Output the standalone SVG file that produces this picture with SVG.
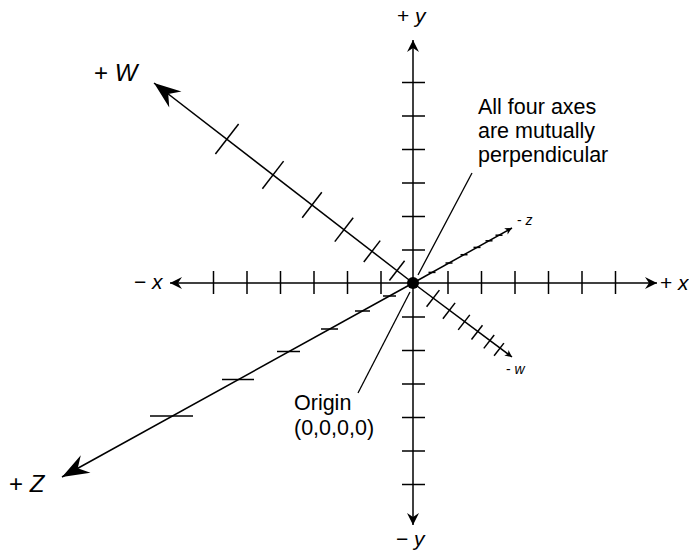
<svg xmlns="http://www.w3.org/2000/svg" width="689" height="550" viewBox="0 0 689 550">
<style>
.ax{stroke:#000;stroke-width:1.5;fill:none}
.tk{stroke:#000;stroke-width:1.5;fill:none}
.ld{stroke:#000;stroke-width:1.3;fill:none}
.t{font-family:"Liberation Sans",Arial,sans-serif;fill:#000}
.it{font-style:italic}
</style>
<defs>
<marker id="ahS" viewBox="-13 -7 14 14" markerWidth="14" markerHeight="14" refX="0" refY="0" orient="auto" markerUnits="userSpaceOnUse">
<path d="M0,0 L-12,-6 L-8,0 L-12,6 Z" fill="#000"/>
</marker>
<marker id="ahB" viewBox="-29 -12 30 24" markerWidth="30" markerHeight="24" refX="0" refY="0" orient="auto" markerUnits="userSpaceOnUse">
<path d="M0,0 L-27,-10 L-18,0 L-27,10 Z" fill="#000"/>
</marker>
<marker id="ahT" viewBox="-9 -5 10 10" markerWidth="10" markerHeight="10" refX="0" refY="0" orient="auto" markerUnits="userSpaceOnUse">
<path d="M0,0 L-7,-3.5 L-5,0 L-7,3.5 Z" fill="#000"/>
</marker>
</defs>
<rect width="689" height="550" fill="#fff"/>

<g id="connectors">
<g id="axis-x">
<line class="ax" x1="413" y1="283" x2="170" y2="283" marker-end="url(#ahS)"/>
<line class="ax" x1="413" y1="283" x2="657" y2="283" marker-end="url(#ahS)"/>
</g>
<g id="axis-y">
<line class="ax" x1="413" y1="283" x2="413" y2="40" marker-end="url(#ahS)"/>
<line class="ax" x1="413" y1="283" x2="413" y2="525" marker-end="url(#ahS)"/>
</g>
<g id="axis-w">
<line class="ax" x1="413" y1="283" x2="154" y2="83" marker-end="url(#ahB)"/>
<line class="ax" x1="413" y1="283" x2="512" y2="357" marker-end="url(#ahT)"/>
</g>
<g id="axis-z">
<line class="ax" x1="413" y1="283" x2="62" y2="477" marker-end="url(#ahB)"/>
<line class="ax" x1="413" y1="283" x2="512" y2="228" marker-end="url(#ahT)"/>
</g>
<g id="leaders">
<line class="ld" x1="472" y1="173" x2="418" y2="275"/>
<line class="ld" x1="358" y1="393" x2="410" y2="292"/>
</g>
</g>

<g id="ticks">
<g id="ticks-x">
<line class="tk" x1="213.5" y1="271" x2="213.5" y2="294"/>
<line class="tk" x1="247" y1="271" x2="247" y2="294"/>
<line class="tk" x1="280.5" y1="271" x2="280.5" y2="294"/>
<line class="tk" x1="314" y1="271" x2="314" y2="294"/>
<line class="tk" x1="347.5" y1="271" x2="347.5" y2="294"/>
<line class="tk" x1="381" y1="271" x2="381" y2="294"/>
<line class="tk" x1="448" y1="271" x2="448" y2="294"/>
<line class="tk" x1="481.5" y1="271" x2="481.5" y2="294"/>
<line class="tk" x1="515" y1="271" x2="515" y2="294"/>
<line class="tk" x1="548.5" y1="271" x2="548.5" y2="294"/>
<line class="tk" x1="582" y1="271" x2="582" y2="294"/>
<line class="tk" x1="615.5" y1="271" x2="615.5" y2="294"/>
</g>
<g id="ticks-y">
<line class="tk" x1="402" y1="82.5" x2="425" y2="82.5"/>
<line class="tk" x1="402" y1="116" x2="425" y2="116"/>
<line class="tk" x1="402" y1="149.5" x2="425" y2="149.5"/>
<line class="tk" x1="402" y1="183" x2="425" y2="183"/>
<line class="tk" x1="402" y1="216.5" x2="425" y2="216.5"/>
<line class="tk" x1="402" y1="250" x2="425" y2="250"/>
<line class="tk" x1="402" y1="317" x2="425" y2="317"/>
<line class="tk" x1="402" y1="350.5" x2="425" y2="350.5"/>
<line class="tk" x1="402" y1="384" x2="425" y2="384"/>
<line class="tk" x1="402" y1="417.5" x2="425" y2="417.5"/>
<line class="tk" x1="402" y1="451" x2="425" y2="451"/>
<line class="tk" x1="402" y1="484.5" x2="425" y2="484.5"/>
</g>
<g id="ticks-w">
<line class="tk" x1="215.4" y1="154" x2="238.6" y2="124"/>
<line class="tk" x1="262.4" y1="188.7" x2="283.6" y2="161.1"/>
<line class="tk" x1="302.2" y1="217.7" x2="321.8" y2="192.3"/>
<line class="tk" x1="334.8" y1="241.6" x2="353.2" y2="217.8"/>
<line class="tk" x1="363.8" y1="262" x2="380.2" y2="240.6"/>
<line class="tk" x1="389.4" y1="280.5" x2="404.6" y2="260.7"/>
<line class="tk" x1="426.6" y1="306.7" x2="439.4" y2="290.1"/>
<line class="tk" x1="442.9" y1="318.7" x2="455.1" y2="302.9"/>
<line class="tk" x1="458.2" y1="329.9" x2="469.8" y2="314.9"/>
<line class="tk" x1="471.5" y1="339.5" x2="482.5" y2="325.3"/>
<line class="tk" x1="483.8" y1="348.4" x2="494.2" y2="335"/>
<line class="tk" x1="494.1" y1="355.7" x2="503.9" y2="343.1"/>
</g>
<g id="ticks-z">
<line class="tk" x1="150" y1="416" x2="193" y2="416"/>
<line class="tk" x1="222" y1="379.5" x2="254" y2="379.5"/>
<line class="tk" x1="277" y1="351.5" x2="300" y2="351.5"/>
<line class="tk" x1="321" y1="329" x2="338" y2="329"/>
<line class="tk" x1="355" y1="311" x2="370" y2="311"/>
<line class="tk" x1="383" y1="296" x2="396" y2="296"/>
<line class="tk" x1="428.5" y1="272.4" x2="435.5" y2="272.4"/>
<line class="tk" x1="445.5" y1="263" x2="452.5" y2="263"/>
<line class="tk" x1="460.5" y1="254.7" x2="467.5" y2="254.7"/>
<line class="tk" x1="473.5" y1="247.4" x2="480.5" y2="247.4"/>
<line class="tk" x1="485.5" y1="240.8" x2="492.5" y2="240.8"/>
<line class="tk" x1="495.5" y1="235.2" x2="502.5" y2="235.2"/>
</g>
</g>

<g id="origin">
<circle cx="413" cy="283" r="6" fill="#000"/>
</g>

<g id="labels">
<g id="label-pw"><text class="t" x="94" y="81" font-size="24">+ <tspan class="it">W</tspan></text></g>
<g id="label-pz"><text class="t" x="9" y="492" font-size="24">+ <tspan class="it">Z</tspan></text></g>
<g id="label-py"><text class="t" x="397" y="23" font-size="21">+ <tspan class="it">y</tspan></text></g>
<g id="label-ny"><text class="t" x="396" y="546" font-size="21">− <tspan class="it">y</tspan></text></g>
<g id="label-nx"><text class="t" x="134" y="289" font-size="21">− <tspan class="it">x</tspan></text></g>
<g id="label-px"><text class="t" x="660" y="290" font-size="21">+ <tspan class="it">x</tspan></text></g>
<g id="label-nz"><text class="t" x="517" y="225" font-size="14">- <tspan class="it">z</tspan></text></g>
<g id="label-nw"><text class="t" x="506" y="374" font-size="14">- <tspan class="it">w</tspan></text></g>
<g id="note-perp">
<text class="t" x="478" y="114" font-size="21.5">All four axes</text>
<text class="t" x="478" y="138" font-size="21.5">are mutually</text>
<text class="t" x="478" y="162" font-size="21.5">perpendicular</text>
</g>
<g id="note-origin">
<text class="t" x="294" y="410" font-size="21.5">Origin</text>
<text class="t" x="294" y="435" font-size="21.5">(0,0,0,0)</text>
</g>
</g>
</svg>
